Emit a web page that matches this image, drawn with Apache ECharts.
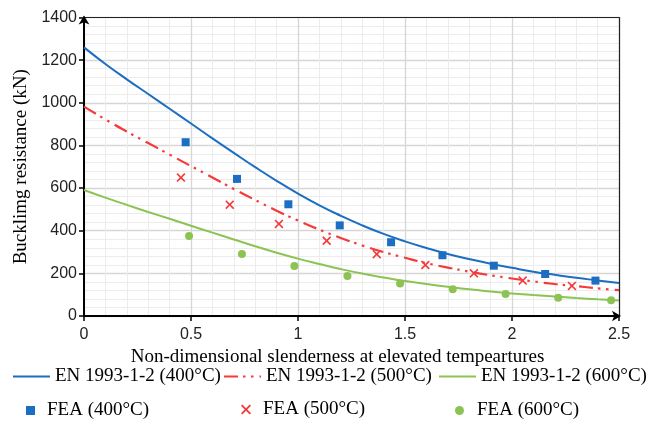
<!DOCTYPE html>
<html>
<head>
<meta charset="utf-8">
<script src="https://cdn.jsdelivr.net/npm/echarts@6/dist/echarts.min.js"></script>
<style>html,body{margin:0;padding:0;background:#fff}#c{width:654px;height:422px}</style>
</head>
<body>
<div id="c"></div>
<script>
// Slenderness values at which the EN 1993-1-2 curves were read
var lambdaEN = [0,0.1,0.2,0.3,0.4,0.5,0.6,0.7,0.8,0.9,1.0,1.1,1.2,1.3,1.4,1.5,1.6,1.7,1.8,1.9,2.0,2.1,2.2,2.3,2.4,2.5];
var en400 = [1260,1182,1110,1041,972,903,833,765,698,634,574,519,470,425,385,350,319,291,267,245,226,208,193,179,167,155];
var en500 = [982,922,865,811,757,703,650,596,544,494,448,405,366,331,300,273,248,227,208,191,176,162,150,140,130,121];
var en600 = [591,555,521,488,456,423,391,359,327,297,269,244,220,199,181,164,150,137,125,115,106,98,91,84,78,73];

var fea400X = [0.475,0.715,0.955,1.195,1.435,1.675,1.915,2.155,2.39];
var fea400Y = [815,643,524,425,346,285,236,197,166];
var fea500X = [0.453,0.681,0.911,1.134,1.368,1.595,1.822,2.05,2.28];
var fea500Y = [649,522,432,353,290,239,200,166,141];
var fea600X = [0.491,0.738,0.983,1.231,1.477,1.723,1.97,2.216,2.463];
var fea600Y = [375,291,235,188,153,125,103,86,74];

var seriesNames = ['EN 1993-1-2 (400°C)','EN 1993-1-2 (500°C)','EN 1993-1-2 (600°C)','FEA (400°C)','FEA (500°C)','FEA (600°C)'];
var xTitle = 'Non-dimensional slenderness at elevated tempeartures';
var yTitle = 'Bucklimg resistance (kN)';

function pairs(xs, ys){ return xs.map(function(x,i){ return [x, ys[i]]; }); }

var BLUE = '#1b6ec2', RED = '#f43a3a', GREEN = '#8cc353';
var SERIF = '"Liberation Serif","Times New Roman",serif';
var SANS = '"Liberation Sans",Arial,sans-serif';
var CROSS = 'path://M0,1.3 L1.3,0 L5,3.7 L8.7,0 L10,1.3 L6.3,5 L10,8.7 L8.7,10 L5,6.3 L1.3,10 L0,8.7 L3.7,5 Z';

var chart = echarts.init(document.getElementById('c'), null, {renderer:'canvas'});
function leg(name, left, top, w, h, pad, hideSym){
  var l = {data:[name], left:left, top:top, itemWidth:w, itemHeight:h, padding:0,
    textStyle:{fontFamily:SERIF, fontSize:19, color:'#000', padding:[0,0,0,pad||0]}};
  if (hideSym) l.itemStyle = {color:'rgba(0,0,0,0)', borderWidth:0};
  return l;
}
chart.setOption({
  animation:false,
  grid:{left:84, right:35, top:17.5, bottom:106, show:false},
  legend:[
    leg(seriesNames[0], 12, 367, 37, 14, 0, true),
    leg(seriesNames[1], 223, 367, 37, 14, 0, true),
    leg(seriesNames[2], 438, 367, 37, 14, 0, true),
    leg(seriesNames[3], 26, 401, 9, 9, 7),
    leg(seriesNames[4], 241, 400, 10, 10, 7),
    leg(seriesNames[5], 455, 401, 9, 9, 8)
  ],
  xAxis:[{type:'value', min:0, max:2.5, interval:0.5,
    name:xTitle, nameLocation:'middle', nameGap:29,
    nameTextStyle:{fontFamily:SERIF, fontSize:19, color:'#000', padding:[0,28,0,0]},
    axisLine:{onZero:false, lineStyle:{color:'#000', width:2}, symbol:['none','arrow'], symbolSize:[8,9], symbolOffset:[0,2]},
    axisTick:{show:true, inside:false, length:5, lineStyle:{color:'#000', width:1.5}},
    axisLabel:{fontFamily:SANS, fontSize:16, color:'#222', margin:11},
    splitLine:{show:true, lineStyle:{color:'#d6d6d6', width:1.3}},
    minorTick:{show:false, splitNumber:5},
    minorSplitLine:{show:true, lineStyle:{color:'#ececec', width:1}}
  },{type:'value', position:'top', min:0, max:2.5, interval:0.5,
    axisLine:{show:true, onZero:false, lineStyle:{color:'#222', width:1.2}},
    axisTick:{show:false}, axisLabel:{show:false}, splitLine:{show:false}
  }],
  yAxis:[{type:'value', min:0, max:1400, interval:200,
    name:yTitle, nameLocation:'middle', nameGap:50, nameRotate:90,
    nameTextStyle:{fontFamily:SERIF, fontSize:19, color:'#000'},
    axisLine:{onZero:false, show:true, lineStyle:{color:'#000', width:2}, symbol:['none','arrow'], symbolSize:[8,9], symbolOffset:[0,2]},
    axisTick:{show:true, inside:false, length:5, lineStyle:{color:'#000', width:1.5}},
    axisLabel:{fontFamily:SANS, fontSize:16, color:'#222', margin:7, formatter:function(v){return String(v);}},
    splitLine:{show:true, lineStyle:{color:'#d6d6d6', width:1.3}},
    minorTick:{show:false, splitNumber:5},
    minorSplitLine:{show:true, lineStyle:{color:'#ececec', width:1}}
  },{type:'value', position:'right', min:0, max:1400, interval:200,
    axisLine:{show:true, onZero:false, lineStyle:{color:'#222', width:1.2}},
    axisTick:{show:false}, axisLabel:{show:false}, splitLine:{show:false}
  }],
  series:[
    {name:seriesNames[0], type:'line', data:pairs(lambdaEN,en400), symbol:'none', smooth:true, z:10,
      lineStyle:{color:BLUE, width:2}, itemStyle:{color:BLUE}},
    {name:seriesNames[1], type:'line', data:pairs(lambdaEN,en500), symbol:'none', smooth:true, z:10,
      lineStyle:{color:RED, width:2.2, type:[14,5,2.5,5.5,2.5,6]}, itemStyle:{color:RED}},
    {name:seriesNames[2], type:'line', data:pairs(lambdaEN,en600), symbol:'none', smooth:true, z:10,
      lineStyle:{color:GREEN, width:2}, itemStyle:{color:GREEN}},
    {name:seriesNames[3], type:'scatter', data:pairs(fea400X,fea400Y), symbol:'rect', symbolSize:8, z:11,
      itemStyle:{color:BLUE, opacity:1}},
    {name:seriesNames[4], type:'scatter', data:pairs(fea500X,fea500Y), symbol:CROSS, symbolSize:9, z:11,
      itemStyle:{color:RED, opacity:1}},
    {name:seriesNames[5], type:'scatter', data:pairs(fea600X,fea600Y), symbol:'circle', symbolSize:8, z:11,
      itemStyle:{color:GREEN, opacity:1}}
  ]
});
</script>
</body>
</html>
